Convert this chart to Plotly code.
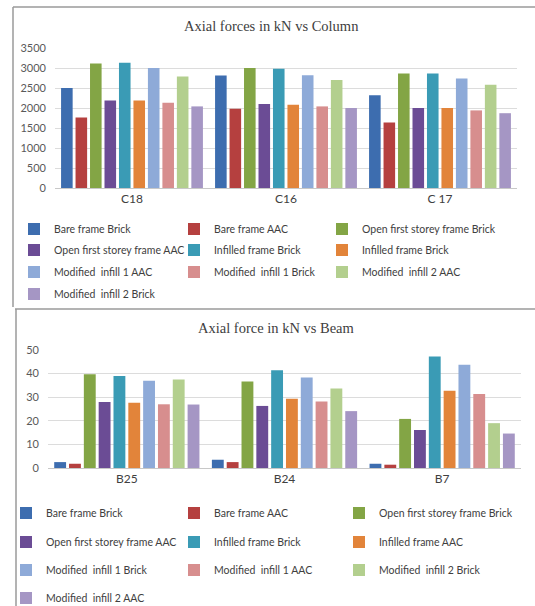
import plotly.graph_objects as go

W, H = 535, 606

# ---------------- data ----------------
col_categories = ["C18", "C16", "C 17"]
col_series = [
    "Bare frame Brick", "Bare frame AAC", "Open first storey frame Brick",
    "Open first storey frame AAC", "Infilled frame Brick", "Infilled frame Brick",
    "Modified\u00a0 infill 1 AAC", "Modified\u00a0 infill 1 Brick",
    "Modified\u00a0 infill 2 AAC", "Modified\u00a0 infill 2 Brick",
]
bare_brick_col = [2500, 2810, 2320]
bare_aac_col = [1760, 1980, 1640]
open_brick_col = [3110, 3000, 2860]
open_aac_col = [2190, 2100, 2000]
infill_brick_col = [3130, 2980, 2860]
infill_b2_col = [2190, 2080, 2000]
mod1_aac_col = [3000, 2820, 2740]
mod1_brick_col = [2130, 2040, 1940]
mod2_aac_col = [2790, 2700, 2580]
mod2_brick_col = [2040, 2000, 1870]
col_values = [bare_brick_col, bare_aac_col, open_brick_col, open_aac_col,
              infill_brick_col, infill_b2_col, mod1_aac_col, mod1_brick_col,
              mod2_aac_col, mod2_brick_col]
col_ticks = [0, 500, 1000, 1500, 2000, 2500, 3000, 3500]

beam_categories = ["B25", "B24", "B7"]
beam_series = [
    "Bare frame Brick", "Bare frame AAC", "Open first storey frame Brick",
    "Open first storey frame AAC", "Infilled frame Brick", "Infilled frame AAC",
    "Modified\u00a0 infill 1 Brick", "Modified\u00a0 infill 1 AAC",
    "Modified\u00a0 infill 2 Brick", "Modified\u00a0 infill 2 AAC",
]
bare_brick_beam = [2.5, 3.5, 1.8]
bare_aac_beam = [1.8, 2.5, 1.4]
open_brick_beam = [39.7, 36.6, 20.8]
open_aac_beam = [28.0, 26.3, 16.1]
infill_brick_beam = [39.0, 41.4, 47.2]
infill_aac_beam = [27.6, 29.3, 32.7]
mod1_brick_beam = [37.0, 38.3, 43.7]
mod1_aac_beam = [27.0, 28.2, 31.4]
mod2_brick_beam = [37.5, 33.7, 19.0]
mod2_aac_beam = [26.9, 24.1, 14.6]
beam_values = [bare_brick_beam, bare_aac_beam, open_brick_beam, open_aac_beam,
               infill_brick_beam, infill_aac_beam, mod1_brick_beam, mod1_aac_beam,
               mod2_brick_beam, mod2_aac_beam]
beam_ticks = [0, 10, 20, 30, 40, 50]

colors = ["#3D6DAF", "#B5403F", "#83A545", "#6B4C95", "#3A9BB5",
          "#E2843A", "#8EAAD8", "#D78E8E", "#B3CF8E", "#A596C4"]

# ---------------- helpers ----------------
def px_x(p):
    return p / W

def px_y(p):
    return 1 - p / H

def legend_id(k):
    return "legend" if k == 0 else f"legend{k + 1}"

font_main = "Lato, 'Open Sans', sans-serif"
legend_font = dict(family=font_main, size=10.5, color="#404040")

# legend grid positions (left edge of each legend box, row centres), in pixels
top_cols = [14, 174, 322]
top_rows = [229, 250, 272, 294]
bot_cols = [6, 174, 339]
bot_rows = [513, 542, 570, 598]

fig = go.Figure()
layout_legends = {}
k = 0
for chart, (series, values, cats, xa, ya, cols, rows) in enumerate([
        (col_series, col_values, col_categories, "x", "y", top_cols, top_rows),
        (beam_series, beam_values, beam_categories, "x2", "y2", bot_cols, bot_rows)]):
    for i, (name, vals) in enumerate(zip(series, values)):
        lid = legend_id(k)
        fig.add_trace(go.Bar(x=cats, y=vals, name=name, marker_color=colors[i],
                             marker_line_width=0, xaxis=xa, yaxis=ya, legend=lid,
                             showlegend=True))
        layout_legends[lid] = dict(
            orientation="h", x=px_x(cols[i % 3]), xanchor="left",
            y=px_y(rows[i // 3]), yanchor="middle", font=legend_font,
            bgcolor="rgba(0,0,0,0)", itemclick=False, itemdoubleclick=False,
        )
        k += 1

axis_common = dict(showgrid=False, ticks="", showline=True, linecolor="#c8c8c8",
                   linewidth=1, tickfont=dict(family=font_main, size=12, color="#404040"),
                   fixedrange=True)
yaxis_common = dict(showgrid=True, gridcolor="#dcdcdc", gridwidth=1, zeroline=False,
                    ticks="", showline=False, ticklabelstandoff=8,
                    tickfont=dict(family=font_main, size=11, color="#595959"),
                    fixedrange=True)

fig.update_layout(
    width=W, height=H, autosize=False, showlegend=True,
    margin=dict(l=0, r=0, t=0, b=0, autoexpand=False),
    paper_bgcolor="white", plot_bgcolor="white",
    barmode="group", bargap=0.06, bargroupgap=0.2,
    xaxis=dict(domain=[px_x(55), px_x(517)], anchor="y", **axis_common),
    yaxis=dict(domain=[px_y(188), px_y(48)], anchor="x", range=[0, 3500],
               tickvals=col_ticks, **yaxis_common),
    xaxis2=dict(domain=[px_x(48), px_x(521)], anchor="y2", **axis_common),
    yaxis2=dict(domain=[px_y(468), px_y(350)], anchor="x2", range=[0, 50],
                tickvals=beam_ticks, **yaxis_common),
    annotations=[
        dict(text="Axial forces in kN vs Column", x=px_x(271), y=px_y(26),
             xref="paper", yref="paper", showarrow=False, xanchor="center",
             yanchor="middle", font=dict(family="Liberation Serif", size=14.5, color="#404040")),
        dict(text="Axial force in kN vs Beam", x=px_x(276), y=px_y(328),
             xref="paper", yref="paper", showarrow=False, xanchor="center",
             yanchor="middle", font=dict(family="Liberation Serif", size=14.5, color="#404040")),
    ],
    shapes=[
        dict(type="line", xref="paper", yref="paper", x0=px_x(13), x1=px_x(13),
             y0=px_y(7), y1=px_y(307), line=dict(color="#9a9a9a", width=1.5)),
        dict(type="line", xref="paper", yref="paper", x0=px_x(13), x1=px_x(535),
             y0=px_y(7), y1=px_y(7), line=dict(color="#9a9a9a", width=1.5)),
        dict(type="line", xref="paper", yref="paper", x0=px_x(15), x1=px_x(535),
             y0=px_y(309), y1=px_y(309), line=dict(color="#9a9a9a", width=1.5)),
        dict(type="line", xref="paper", yref="paper", x0=px_x(16), x1=px_x(16),
             y0=px_y(309), y1=px_y(606), line=dict(color="#9a9a9a", width=1.5)),
    ],
    **layout_legends,
)

fig.write_html("out.html")
